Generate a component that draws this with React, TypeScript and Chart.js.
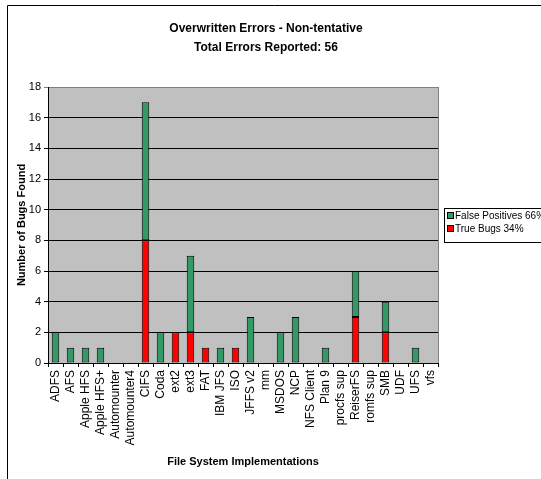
import React, { useEffect, useRef } from 'react';
import { Chart, registerables } from 'chart.js';

Chart.register(...registerables);

const categories = [
  'ADFS', 'AFS', 'Apple HFS', 'Apple HFS+', 'Automounter', 'Automounter4', 'CIFS', 'Coda',
  'ext2', 'ext3', 'FAT', 'IBM JFS', 'ISO', 'JFFS v2', 'mm', 'MSDOS', 'NCP', 'NFS Client',
  'Plan 9', 'procfs sup', 'ReiserFS', 'romfs sup', 'SMB', 'UDF', 'UFS', 'vfs',
];
const trueBugs = [0, 0, 0, 0, 0, 0, 8, 0, 2, 2, 1, 0, 1, 0, 0, 0, 0, 0, 0, 0, 3, 0, 2, 0, 0, 0];
const falsePositives = [2, 1, 1, 1, 0, 0, 9, 2, 0, 5, 0, 1, 0, 3, 0, 2, 3, 0, 1, 0, 3, 0, 2, 0, 1, 0];
const seriesLabels = ['False Positives 66%', 'True Bugs 34%'];
const titleLines = ['Overwritten Errors - Non-tentative', 'Total Errors Reported: 56'];
const yTitle = 'Number of Bugs Found';
const xTitle = 'File System Implementations';

const GREEN = '#339966';
const RED = '#FF0000';
const FONT = '"Liberation Sans", Arial, sans-serif';

const decor = {
  id: 'decor',
  beforeDraw(chart: any) {
    const { ctx, chartArea: a } = chart;
    ctx.save();
    ctx.fillStyle = '#ffffff';
    ctx.fillRect(0, 0, chart.width, chart.height);
    ctx.fillStyle = '#C0C0C0';
    ctx.fillRect(a.left, a.top, a.right - a.left, a.bottom - a.top);
    ctx.restore();
  },
  afterDraw(chart: any) {
    const { ctx, chartArea: a } = chart;
    ctx.save();
    // plot right border
    ctx.strokeStyle = '#808080';
    ctx.lineWidth = 1;
    ctx.beginPath();
    ctx.moveTo(Math.round(a.right) + 0.5, a.top);
    ctx.lineTo(Math.round(a.right) + 0.5, a.bottom);
    ctx.stroke();
    // outer border
    ctx.strokeStyle = '#000';
    ctx.beginPath();
    ctx.moveTo(7.5, chart.height);
    ctx.lineTo(7.5, 5.5);
    ctx.lineTo(chart.width, 5.5);
    ctx.stroke();
    // titles
    ctx.fillStyle = '#000';
    ctx.textAlign = 'center';
    ctx.textBaseline = 'middle';
    ctx.font = 'bold 12px ' + FONT;
    ctx.fillText(titleLines[0], 266, 28.5);
    ctx.fillText(titleLines[1], 266, 47.5);
    // axis titles
    ctx.font = 'bold 11px ' + FONT;
    ctx.fillText(xTitle, (a.left + a.right) / 2, 462);
    ctx.save();
    ctx.translate(22, (a.top + a.bottom) / 2);
    ctx.rotate(-Math.PI / 2);
    ctx.fillText(yTitle, 0, 0);
    ctx.restore();
    // legend
    ctx.fillStyle = '#fff';
    ctx.fillRect(444.5, 208.5, 110, 34);
    ctx.strokeStyle = '#000';
    ctx.strokeRect(444.5, 208.5, 110, 34);
    const colors = [GREEN, RED];
    const ys = [216, 229];
    ctx.font = '10px ' + FONT;
    ctx.textAlign = 'left';
    for (let i = 0; i < 2; i++) {
      ctx.fillStyle = colors[i];
      ctx.fillRect(447.5, ys[i] - 3.5, 6, 6);
      ctx.strokeStyle = '#000';
      ctx.strokeRect(447.5, ys[i] - 3.5, 6, 6);
      ctx.fillStyle = '#000';
      ctx.fillText(seriesLabels[i], 455, ys[i]);
    }
    ctx.restore();
  },
};

export default function App() {
  const ref = useRef<HTMLCanvasElement>(null);
  useEffect(() => {
    if (!ref.current) return;
    const chart = new Chart(ref.current, {
      type: 'bar',
      data: {
        labels: categories,
        datasets: [
          {
            label: seriesLabels[1],
            data: trueBugs.map((v) => (v ? v : null)),
            backgroundColor: RED,
            borderColor: '#000',
            borderWidth: 1,
            borderSkipped: false,
          },
          {
            label: seriesLabels[0],
            data: falsePositives.map((v) => (v ? v : null)),
            backgroundColor: GREEN,
            borderColor: '#000',
            borderWidth: 1,
            borderSkipped: false,
          },
        ],
      },
      options: {
        responsive: false,
        animation: false,
        devicePixelRatio: 1,
        layout: { padding: { top: 87, right: 103, left: 0, bottom: 0 } },
        datasets: { bar: { barPercentage: 0.5, categoryPercentage: 1 } },
        plugins: { legend: { display: false }, title: { display: false }, tooltip: { enabled: false } },
        scales: {
          x: {
            stacked: true,
            offset: true,
            grid: {
              drawOnChartArea: false,
              drawTicks: true,
              tickLength: 4,
              color: '#000',
              offset: true,
            },
            border: { display: true, color: '#000' },
            ticks: {
              autoSkip: false,
              minRotation: 90,
              maxRotation: 90,
              padding: 3,
              color: '#000',
              font: { family: FONT, size: 12 },
            },
            afterFit: (s: any) => {
              s.height = 116;
            },
          },
          y: {
            stacked: true,
            min: 0,
            max: 18,
            ticks: {
              stepSize: 2,
              padding: 3,
              color: '#000',
              font: { family: FONT, size: 11 },
            },
            grid: {
              tickLength: 4,
              color: (c: any) => (c.tick && c.tick.value === 18 ? '#808080' : '#000'),
            },
            border: { display: true, color: '#000' },
            afterFit: (s: any) => {
              s.width = 48;
            },
          },
        },
      },
      plugins: [decor],
    });
    return () => chart.destroy();
  }, []);
  return (
    <div style={{ position: 'absolute', left: 0, top: 0, width: 541, height: 479 }}>
      <canvas ref={ref} width={541} height={479} />
    </div>
  );
}
